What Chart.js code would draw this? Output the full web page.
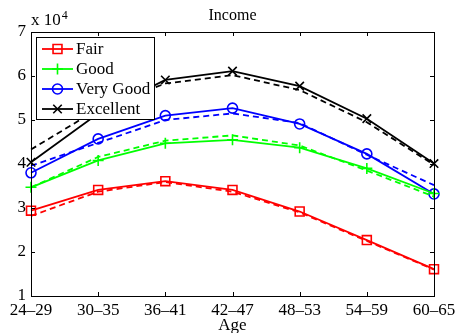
<!DOCTYPE html>
<html>
<head>
<meta charset="utf-8">
<script src="https://cdn.jsdelivr.net/npm/chart.js@4.4.1/dist/chart.umd.min.js"></script>
<style>
  html, body { margin: 0; padding: 0; background: #fff; }
  #wrap { width: 458px; height: 333px; position: relative; }
</style>
</head>
<body>
<div id="wrap"><canvas id="c" width="458" height="333"></canvas></div>
<script>
// Age groups along the horizontal axis
const ageGroups = ['24\u201329', '30\u201335', '36\u201341', '42\u201347', '48\u201353', '54\u201359', '60\u201365'];

// Income (in units of 10^4) by health status, solid = observed, dashed = model
const fairSolid      = [2.94, 3.41, 3.61, 3.41, 2.92, 2.27, 1.61];
const fairDashed     = [2.82, 3.37, 3.59, 3.37, 2.90, 2.25, 1.60];
const goodSolid      = [3.47, 4.08, 4.47, 4.55, 4.37, 3.90, 3.33];
const goodDashed     = [3.47, 4.16, 4.53, 4.65, 4.42, 3.85, 3.26];
const veryGoodSolid  = [3.80, 4.57, 5.10, 5.27, 4.91, 4.23, 3.32];
const veryGoodDashed = [3.96, 4.48, 5.00, 5.15, 4.93, 4.21, 3.52];
const excellentSolid = [4.04, 5.15, 5.91, 6.11, 5.77, 5.03, 4.01];
const excellentDashed= [4.33, 5.25, 5.83, 6.02, 5.68, 4.95, 3.98];

const seriesNames = ['Fair', 'Good', 'Very Good', 'Excellent'];
const yTicks = [1, 2, 3, 4, 5, 6, 7];

const FONT = "'Liberation Serif', 'Times New Roman', serif";
const colors = ['#ff0000', '#00ff00', '#0000ff', '#000000'];
const markers = [
  { style: 'rect', radius: 6.3 },
  { style: 'cross', radius: 5.5 },
  { style: 'circle', radius: 5 },
  { style: 'crossRot', radius: 6 }
];
const solids = [fairSolid, goodSolid, veryGoodSolid, excellentSolid];
const dashes = [fairDashed, goodDashed, veryGoodDashed, excellentDashed];

const datasets = [];
for (let i = 0; i < 4; i++) {
  datasets.push({
    label: seriesNames[i],
    data: solids[i],
    borderColor: colors[i],
    backgroundColor: 'rgba(0,0,0,0)',
    borderWidth: 1.8,
    pointStyle: markers[i].style,
    pointRadius: markers[i].radius,
    pointBorderWidth: 1.6,
    pointBorderColor: colors[i],
    pointBackgroundColor: 'rgba(0,0,0,0)',
    tension: 0,
    clip: false
  });
  datasets.push({
    label: seriesNames[i] + ' (dashed)',
    data: dashes[i],
    borderColor: colors[i],
    backgroundColor: 'rgba(0,0,0,0)',
    borderWidth: 1.8,
    borderDash: [6, 4],
    pointRadius: 0,
    tension: 0,
    clip: false
  });
}

// Box frame, inward ticks on all four sides, category labels, titles and legend
const matlabFrame = {
  id: 'matlabFrame',
  afterDatasetsDraw(chart) {
    const ctx = chart.ctx;
    const a = chart.chartArea;
    const xs = chart.scales.x, ys = chart.scales.y;
    const tl = 4;
    ctx.save();
    ctx.strokeStyle = '#000';
    ctx.lineWidth = 1;
    ctx.strokeRect(Math.round(a.left) + 0.5, Math.round(a.top) + 0.5,
                   Math.round(a.right - a.left), Math.round(a.bottom - a.top));
    ctx.beginPath();
    xs.ticks.forEach((t, i) => {
      const px = Math.round(xs.getPixelForTick(i)) + 0.5;
      ctx.moveTo(px, a.bottom); ctx.lineTo(px, a.bottom - tl);
      ctx.moveTo(px, a.top); ctx.lineTo(px, a.top + tl);
    });
    ys.ticks.forEach((t, i) => {
      const py = Math.round(ys.getPixelForTick(i)) + 0.5;
      ctx.moveTo(a.left, py); ctx.lineTo(a.left + tl, py);
      ctx.moveTo(a.right, py); ctx.lineTo(a.right - tl, py);
    });
    ctx.stroke();

    ctx.fillStyle = '#000';
    ctx.textBaseline = 'alphabetic';

    // category labels under each tick
    ctx.font = '17px ' + FONT;
    ctx.textAlign = 'center';
    xs.ticks.forEach((t, i) => {
      ctx.fillText(xs.getLabelForValue(t.value), xs.getPixelForTick(i), 315);
    });
    // axis title
    ctx.fillText('Age', (a.left + a.right) / 2, 330);

    // exponent label
    ctx.textAlign = 'left';
    ctx.font = '17px ' + FONT;
    ctx.fillText('x 10', 31, 25);
    const w = ctx.measureText('x 10').width;
    ctx.font = '12px ' + FONT;
    ctx.fillText('4', 31 + w + 1, 19);

    // title
    ctx.font = '16px ' + FONT;
    ctx.textAlign = 'center';
    ctx.fillText('Income', (a.left + a.right) / 2, 20);

    // legend
    const lx = 36.5, ly = 37.5, lw = 118, lh = 82;
    ctx.fillStyle = '#fff';
    ctx.fillRect(lx, ly, lw, lh);
    ctx.strokeStyle = '#000';
    ctx.lineWidth = 1;
    ctx.strokeRect(lx, ly, lw, lh);
    ctx.font = '17px ' + FONT;
    ctx.textAlign = 'left';
    ctx.textBaseline = 'middle';
    for (let i = 0; i < 4; i++) {
      const yy = 49 + i * 20;
      ctx.strokeStyle = colors[i];
      ctx.lineWidth = 1.8;
      ctx.setLineDash([]);
      ctx.beginPath();
      ctx.moveTo(42, yy); ctx.lineTo(73, yy);
      ctx.stroke();
      ctx.fillStyle = 'rgba(0,0,0,0)';
      ctx.lineWidth = 1.6;
      Chart.helpers.drawPoint(ctx, {
        pointStyle: markers[i].style,
        radius: markers[i].radius,
        borderWidth: 1.6,
        rotation: 0
      }, 57.5, yy);
      ctx.fillStyle = '#000';
      ctx.fillText(seriesNames[i], 76, yy + 1);
    }
    ctx.restore();
  }
};

new Chart(document.getElementById('c'), {
  type: 'line',
  data: { labels: ageGroups, datasets },
  options: {
    responsive: false,
    animation: false,
    devicePixelRatio: 1,
    layout: { padding: { left: 0, right: 24, top: 32, bottom: 0 } },
    plugins: {
      legend: { display: false },
      title: { display: false },
      tooltip: { enabled: false }
    },
    scales: {
      x: {
        type: 'category',
        offset: false,
        grid: { display: false, drawTicks: false },
        border: { display: true, color: '#000', width: 1 },
        ticks: { display: false, autoSkip: false },
        afterFit(scale) { scale.height = 37; }
      },
      y: {
        type: 'linear',
        min: 1, max: 7,
        afterBuildTicks(scale) { scale.ticks = yTicks.map(v => ({ value: v })); },
        grid: { display: false, drawTicks: false },
        border: { display: true, color: '#000', width: 1 },
        ticks: { color: '#000', font: { family: FONT, size: 17 }, padding: 5 },
        afterFit(scale) { scale.width = 31; }
      }
    }
  },
  plugins: [matlabFrame]
});
</script>
</body>
</html>
